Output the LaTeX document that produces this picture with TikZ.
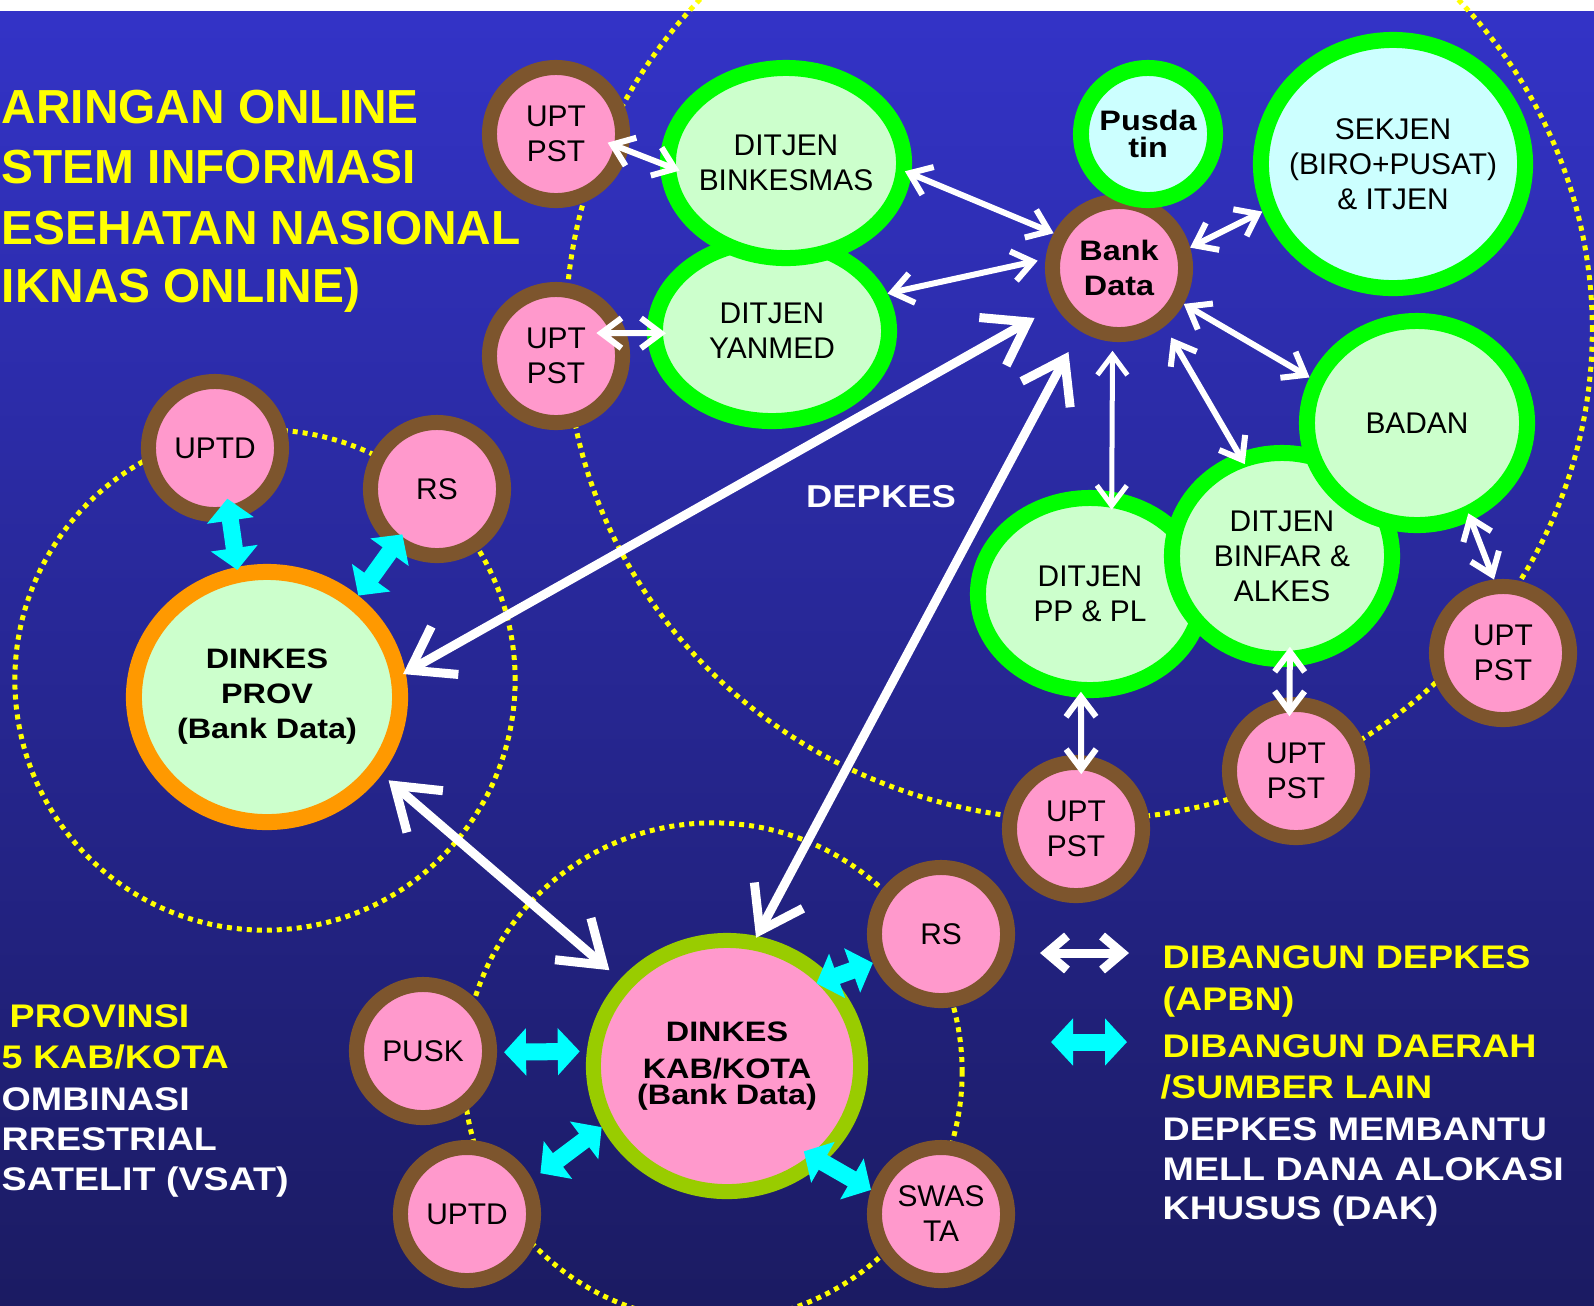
\documentclass[tikz,border=0pt]{standalone}
\usepackage{fontspec}
\setmainfont{Liberation Sans}
\newfontfamily\widefont[FakeStretch=1.15]{Liberation Sans}
\usetikzlibrary{shapes.geometric,arrows.meta}

\definecolor{bgtop}{RGB}{51,51,199}
\definecolor{bgbottom}{RGB}{27,27,98}
\definecolor{ringbrown}{RGB}{125,85,45}
\definecolor{pinkfill}{RGB}{255,153,204}
\definecolor{ringgreen}{RGB}{0,255,0}
\definecolor{greenfill}{RGB}{204,255,204}
\definecolor{cyanfill}{RGB}{204,255,255}
\definecolor{ringorange}{RGB}{255,153,0}
\definecolor{ringlime}{RGB}{153,204,0}
\definecolor{arrowcyan}{RGB}{0,255,255}
\definecolor{dotyellow}{RGB}{255,255,0}

\newcommand{\nodefont}{\fontsize{8.5}{9.95}\selectfont}
\newcommand{\nodebold}{\widefont\bfseries\fontsize{8}{9.95}\selectfont}
\newcommand{\legfont}{\widefont\bfseries\fontsize{9.3}{11}\selectfont}
\newcommand{\headfont}{\bfseries\fontsize{13.6}{16}\selectfont}

\tikzset{
    pinkunit/.style={circle, draw=ringbrown, line width=0.15cm, fill=pinkfill,
        minimum size=1.33cm, inner sep=0pt, align=center, font=\nodefont},
    greenoffice/.style={ellipse, draw=ringgreen, line width=0.16cm, fill=greenfill,
        inner sep=-0.3cm, align=center, font=\nodefont},
    yellowdots/.style={draw=dotyellow, line width=0.05cm, dash pattern=on 0.05cm off 0.05cm},
    wline/.style={draw=white, line width=0.06cm, <->, >={Straight Barb[length=0.2cm,width=0.3cm]}},
    bigline/.style={draw=white, line width=0.09cm, <->, >={Straight Barb[length=0.4cm,width=0.55cm]}},
    carrow/.style={draw=arrowcyan, line width=0.17cm, <->, >={Triangle[length=0.22cm,width=0.46cm]}},
    legtext/.style={anchor=base west, inner sep=0pt, font=\legfont},
    headtext/.style={anchor=base west, inner sep=0pt, text=dotyellow, font=\headfont}
}

\begin{document}
\begin{tikzpicture}[x=0.01cm,y=-0.01cm]
    \useasboundingbox (0,0) rectangle (1594,1305);
    \clip (0,0) rectangle (1594,1305);
    \fill[white] (0,0) rectangle (1594,11);
    \shade[top color=bgtop, bottom color=bgbottom] (0,11) rectangle (1594,1305);

    % dotted areas
    \draw[yellowdots] (1079,330) ellipse [x radius=5.13cm, y radius=4.9cm];
    \draw[yellowdots] (265,680) circle [radius=2.5cm];
    \draw[yellowdots] (713,1072) circle [radius=2.49cm];

    % title
    \node[headtext] (head1) at (1,123) {ARINGAN ONLINE};
    \node[headtext] (head2) at (1,183) {STEM INFORMASI};
    \node[headtext] (head3) at (1,244) {ESEHATAN NASIONAL};
    \node[headtext] (head4) at (1,302) {IKNAS ONLINE)};

    % depkes
    \node[greenoffice, minimum width=2.34cm, minimum height=1.80cm] (yanmed) at (772,331) {DITJEN\\YANMED};
    \node[greenoffice, minimum width=2.36cm, minimum height=1.90cm] (binkesmas) at (786,163) {DITJEN\\BINKESMAS};
    \node[pinkunit] (upta) at (556,134) {UPT\\PST};
    \node[pinkunit] (uptb) at (556,356) {UPT\\PST};
    \node[pinkunit, font=\nodebold] (bank) at (1119,268) {Bank\\Data};
    \node[greenoffice, fill=cyanfill, font=\nodebold, minimum width=1.34cm, minimum height=1.32cm] (pusdatin) at (1148,134) {Pusda\\[-2.3pt]tin};
    \node[greenoffice, fill=cyanfill, minimum width=2.64cm, minimum height=2.48cm] (sekjen) at (1393,164) {SEKJEN\\(BIRO+PUSAT)\\\& ITJEN};
    \node[greenoffice, minimum width=2.24cm, minimum height=1.92cm] (pppl) at (1090,594) {DITJEN\\PP \& PL};
    \node[greenoffice, minimum width=2.20cm, minimum height=2.06cm] (binfar) at (1282,556) {DITJEN\\BINFAR \&\\ALKES};
    \node[greenoffice, minimum width=2.20cm, minimum height=2.04cm] (badan) at (1417,423) {BADAN};
    \node[pinkunit] (uptc) at (1076,829) {UPT\\PST};
    \node[pinkunit] (uptd) at (1296,771) {UPT\\PST};
    \node[pinkunit] (upte) at (1503,653) {UPT\\PST};
    \node[anchor=base, inner sep=0pt, text=white, font=\widefont\bfseries\fontsize{9}{11}\selectfont] (depkes) at (881,507) {DEPKES};

    % provinsi
    \node[pinkunit] (provuptd) at (215,448) {UPTD};
    \node[pinkunit] (provrs) at (437,489) {RS};
    \node[greenoffice, draw=ringorange, font=\nodebold, minimum width=2.66cm, minimum height=2.50cm] (prov) at (267,697) {DINKES\\PROV\\(Bank Data)};

    % kab/kota
    \node[greenoffice, draw=ringlime, fill=pinkfill, line width=0.15cm, font=\nodebold, minimum width=2.67cm, minimum height=2.51cm] (kab) at (727,1066) {DINKES\\[0.5pt]KAB/KOTA\\[-2.5pt](Bank Data)};
    \node[pinkunit] (pusk) at (423,1051) {PUSK};
    \node[pinkunit] (kabuptd) at (467,1214) {UPTD};
    \node[pinkunit] (kabrs) at (941,934) {RS};
    \node[pinkunit] (swasta) at (941,1214) {SWAS\\TA};

    % links built by depkes
    \draw[wline, shorten <=-0.22cm, shorten >=-0.21cm] (upta.-13) -- (binkesmas.180);
    \draw[wline, shorten <=-0.30cm, shorten >=-0.19cm] (uptb.18) -- (yanmed.181);
    \draw[wline, shorten <=-0.07cm] (binkesmas.-5) -- (bank.152);
    \draw[wline, shorten >=0.08cm] (yanmed.18) -- (bank.173);
    \draw[wline] (bank.16) -- (sekjen.200);
    \draw[wline] (bank.-29) -- (badan.157);
    \draw[wline, shorten <=0.13cm, shorten >=-0.13cm] (bank.-52) -- (binfar.113);
    \draw[wline, line width=0.05cm, shorten <=0.09cm, shorten >=-0.18cm] (bank.-95) -- (pppl.78);
    \draw[wline, shorten <=-0.08cm] (badan.-61) -- (upte.97);
    \draw[wline, shorten <=-0.2cm, shorten >=-0.19cm] (binfar.-86) -- (uptd.95);
    \draw[wline, shorten <=-0.06cm, shorten >=-0.19cm] (pppl.-95) -- (uptc.86);
    \draw[bigline, shorten <=-0.03cm, shorten >=0.24cm] (prov.10) -- (bank.211);
    \draw[bigline, shorten <=0.09cm, shorten >=0.14cm] (prov.-34) -- (kab.141);
    \draw[bigline, shorten <=-0.02cm, shorten >=0.24cm] (kab.77) -- (bank.238);

    % links built by daerah
    \draw[carrow, shorten <=-0.22cm, shorten >=-0.03cm] (provuptd.-78) -- (prov.103);
    \draw[carrow, shorten <=-0.17cm] (provrs.233) -- (prov.48);
    \draw[carrow, shorten <=0.07cm, shorten >=0.07cm] (pusk.-1) -- (kab.174);
    \draw[carrow, shorten <=0.10cm] (kabuptd.28) -- (kab.206);
    \draw[carrow, shorten <=-0.17cm] (kab.40) -- (kabrs.203);
    \draw[carrow, shorten <=-0.23cm] (kab.-45) -- (swasta.161);

    % legend
    \coordinate (legwa) at (1040,953);
    \coordinate (legwb) at (1129,953);
    \draw[wline, line width=0.09cm, >={Straight Barb[length=0.2cm,width=0.34cm]}] (legwa) -- (legwb);
    \coordinate (legca) at (1051,1042);
    \coordinate (legcb) at (1127,1042);
    \draw[carrow] (legca) -- (legcb);
    \node[legtext, text=dotyellow] (leg1) at (1162,968) {DIBANGUN DEPKES};
    \node[legtext, text=dotyellow] (leg2) at (1162,1010) {(APBN)};
    \node[legtext, text=dotyellow] (leg3) at (1162,1057) {DIBANGUN DAERAH};
    \node[legtext, text=dotyellow] (leg4) at (1160,1098) {/SUMBER LAIN};
    \node[legtext, text=white] (leg5) at (1162,1140) {DEPKES MEMBANTU};
    \node[legtext, text=white] (leg6) at (1162,1180) {MELL DANA ALOKASI};
    \node[legtext, text=white] (leg7) at (1162,1219) {KHUSUS (DAK)};

    % note bottom left
    \node[legtext, text=dotyellow] (note1) at (9,1027) {PROVINSI};
    \node[legtext, text=dotyellow] (note2) at (1,1068) {5 KAB/KOTA};
    \node[legtext, text=white] (note3) at (1,1110) {OMBINASI};
    \node[legtext, text=white] (note4) at (1,1150) {RRESTRIAL};
    \node[legtext, text=white] (note5) at (1,1190) {SATELIT (VSAT)};
\end{tikzpicture}
\end{document}
